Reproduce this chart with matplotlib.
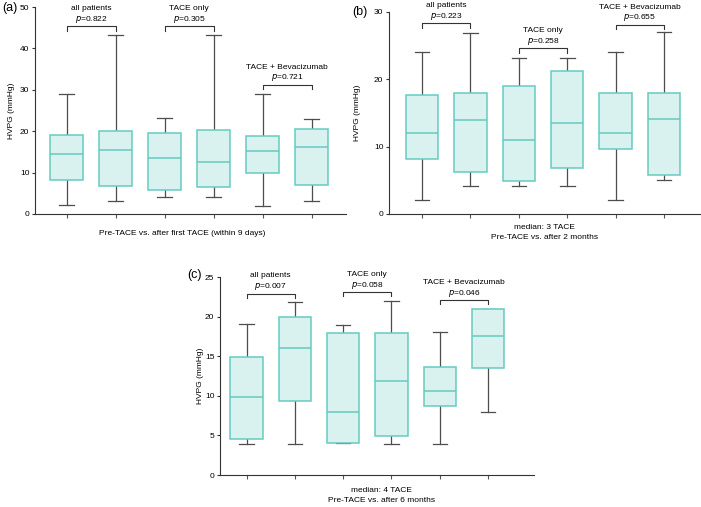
import matplotlib
matplotlib.use("Agg")
import matplotlib.pyplot as plt

plt.rcParams['font.family'] = ['Liberation Sans', 'DejaVu Sans']
plt.rcParams['font.size'] = 6

# box statistics: whisker low, Q1, median, Q3, whisker high (HVPG, mmHg)
a_lo  = [2.1, 3.1, 4.1, 4.1, 1.9, 3.1]
a_q1  = [8.2, 6.8, 5.9, 6.5, 9.9, 7.0]
a_med = [14.5, 15.5, 13.5, 12.6, 15.1, 16.1]
a_q3  = [19.2, 20.0, 19.6, 20.2, 18.8, 20.5]
a_hi  = [29.1, 43.2, 23.1, 43.2, 28.9, 22.9]

b_lo  = [2.1, 4.1, 4.1, 4.1, 2.1, 5.0]
b_q1  = [8.1, 6.2, 4.9, 6.9, 9.7, 5.8]
b_med = [12.1, 14.0, 11.0, 13.5, 12.0, 14.1]
b_q3  = [17.7, 17.9, 19.0, 21.3, 17.9, 17.9]
b_hi  = [24.0, 26.9, 23.1, 23.1, 24.0, 27.0]

c_lo  = [3.9, 3.9, 4.0, 3.9, 3.9, 8.0]
c_q1  = [4.5, 9.4, 4.1, 4.9, 8.7, 13.5]
c_med = [9.9, 16.0, 7.9, 11.9, 10.6, 17.6]
c_q3  = [14.9, 20.0, 17.9, 17.9, 13.6, 21.0]
c_hi  = [19.1, 21.9, 18.9, 22.0, 18.0, 21.0]

groups = ["all patients", "TACE only", "TACE + Bevacizumab"]
a_p = ["0.822", "0.305", "0.721"]
b_p = ["0.223", "0.258", "0.655"]
c_p = ["0.007", "0.058", "0.046"]
a_bracket = [45.3, 45.3, 31.2]
b_bracket = [28.3, 24.6, 28.1]
c_bracket = [22.9, 23.1, 22.1]

edge = "#66cbc1"
fill = "#d9f1ef"
dark = "#4d4d4d"


def panel(ax, lo, q1, med, q3, hi, pvals, levels, ymax, ystep,
          xlabel, xoff, xpad, ylab_x, xlim):
    stats = [dict(whislo=l, q1=a, med=m, q3=b, whishi=h, fliers=[])
             for l, a, m, b, h in zip(lo, q1, med, q3, hi)]
    pos = list(range(1, len(stats) + 1))
    ax.bxp(stats, positions=pos, widths=0.67, patch_artist=True,
           showfliers=False, capwidths=0.3,
           boxprops=dict(facecolor=fill, edgecolor=edge, linewidth=1.1,
                         zorder=3),
           medianprops=dict(color=edge, linewidth=1.1, zorder=4),
           whiskerprops=dict(color=dark, linewidth=0.9, zorder=2),
           capprops=dict(color=dark, linewidth=0.9, zorder=2))
    ax.set_xlim(*xlim)
    ax.set_ylim(0, ymax)
    ax.set_yticks(range(0, ymax + 1, ystep))
    ax.set_xticks(pos)
    ax.set_xticklabels([])
    for s in ["top", "right"]:
        ax.spines[s].set_visible(False)
    for s in ["left", "bottom"]:
        ax.spines[s].set_color("#333333")
        ax.spines[s].set_linewidth(0.8)
    ax.spines["left"].set_bounds(0, ymax)
    ax.tick_params(axis="y", length=2.5, width=0.8, pad=1.5, labelsize=6,
                   color="#333333")
    ax.tick_params(axis="x", length=3, width=0.8, color="#555555")
    ax.set_ylabel("HVPG (mmHg)", fontsize=6)
    ax.yaxis.set_label_coords(ylab_x, 0.5)
    drop = 0.022 * ymax
    for i, (g, p, y) in enumerate(zip(groups, pvals, levels)):
        x0, x1 = pos[2 * i], pos[2 * i + 1]
        ax.plot([x0, x0, x1, x1], [y - drop, y, y, y - drop],
                color="#333333", linewidth=0.8, clip_on=False)
        xm = (x0 + x1) / 2
        ax.annotate("$p$=" + p, (xm, y), xytext=(0, 5),
                    textcoords="offset points", ha="center", va="center",
                    fontsize=6, annotation_clip=False)
        ax.annotate(g, (xm, y), xytext=(0, 12.7),
                    textcoords="offset points", ha="center", va="center",
                    fontsize=6, annotation_clip=False)
    ax.annotate(xlabel, (0.5, 0), xycoords="axes fraction",
                xytext=(xoff, xpad), textcoords="offset points",
                ha="center", va="top", fontsize=6, linespacing=1.6)
    return ax


fig = plt.figure(figsize=(7.01, 5.07), dpi=100)

ax_a = fig.add_axes([35 / 701, 1 - 214 / 507, 311 / 701, 207 / 507])
panel(ax_a, a_lo, a_q1, a_med, a_q3, a_hi, a_p, a_bracket, 50, 10,
      "Pre-TACE vs. after first TACE (within 9 days)", -6, -11.5, -0.064,
      (0.35, 6.7))

ax_b = fig.add_axes([389 / 701, 1 - 214 / 507, 311 / 701, 202 / 507])
panel(ax_b, b_lo, b_q1, b_med, b_q3, b_hi, b_p, b_bracket, 30, 10,
      "median: 3 TACE\nPre-TACE vs. after 2 months", 0, -7.5, -0.09,
      (0.32, 6.74))

ax_c = fig.add_axes([220 / 701, 1 - 475 / 507, 314 / 701, 198 / 507])
panel(ax_c, c_lo, c_q1, c_med, c_q3, c_hi, c_p, c_bracket, 25, 5,
      "median: 4 TACE\nPre-TACE vs. after 6 months", 3, -8.5, -0.051,
      (0.45, 6.95))

fig.text(2 / 701, 1 - 8 / 507, "(a)", fontsize=9, va="center", ha="left")
fig.text(352 / 701, 1 - 12 / 507, "(b)", fontsize=9, va="center", ha="left")
fig.text(187 / 701, 1 - 275 / 507, "(c)", fontsize=9, va="center", ha="left")

fig.savefig("out.png", dpi=100)
